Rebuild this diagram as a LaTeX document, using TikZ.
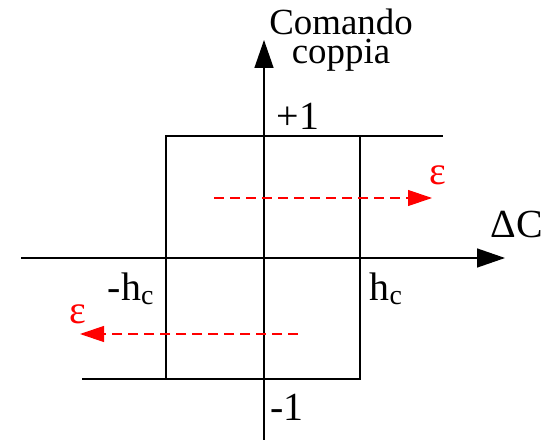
\documentclass[tikz,border=0pt]{standalone}
\usepackage{fontspec}
\setmainfont{Liberation Serif}
\usetikzlibrary{arrows.meta}

\begin{document}
\begin{tikzpicture}[
    x=1bp, y=-1bp,
    line width=1.4bp,
    font=\fontsize{40}{44}\selectfont,
    asse/.style={-{Triangle[length=28bp,width=19bp]}},
    ciclo/.style={line width=1.4bp},
    eps/.style={red,dashed,line width=1.2bp,dash pattern=on 10bp off 6bp,
                -{Triangle[length=24bp,width=16bp]}},
    etich/.style={anchor=base,inner sep=0pt}]

  \useasboundingbox (0,0) rectangle (545,440);

  % ---- gli assi --------------------------------------------------------------
  \coordinate (xini) at (21,258);
  \coordinate (xfin) at (505,258);
  \coordinate (yini) at (264,440);
  \coordinate (yfin) at (264,40);
  \draw[asse] (xini) -- (xfin);      % errore di coppia
  \draw[asse] (yini) -- (yfin);      % comando coppia

  % ---- il ciclo di isteresi --------------------------------------------------
  \draw[ciclo] (166,136) rectangle (360,379);
  \draw[ciclo] (360,136) -- (443,136);   % ramo superiore
  \draw[ciclo] (82,379) -- (166,379);    % ramo inferiore

  % ---- le frecce tratteggiate ------------------------------------------------
  \coordinate (sa) at (214,198);
  \coordinate (sb) at (432,198);
  \coordinate (ia) at (298,334);
  \coordinate (ib) at (80,334);
  \draw[eps] (sa) -- (sb);
  \draw[eps] (ia) -- (ib);

  % ---- le etichette ----------------------------------------------------------
  \node[inner sep=0pt,anchor=north,align=center,
        font=\fontsize{37}{29.5}\selectfont] (comando) at (341,8) {Comando\\coppia};
  \node[etich] (piu)  at (298,130) {+1};
  \node[etich] (meno) at (287,420) {-1};
  \node[etich] (hneg) at (131,300) {-h\textsubscript{c}};
  \node[etich] (hpos) at (386,300) {h\textsubscript{c}};
  \node[etich,anchor=base west] (dc) at (490,238) {ΔC};
  \node[etich,red] (epss) at (438,185) {ε};
  \node[etich,red] (epsi) at (78,323)  {ε};

\end{tikzpicture}
\end{document}
